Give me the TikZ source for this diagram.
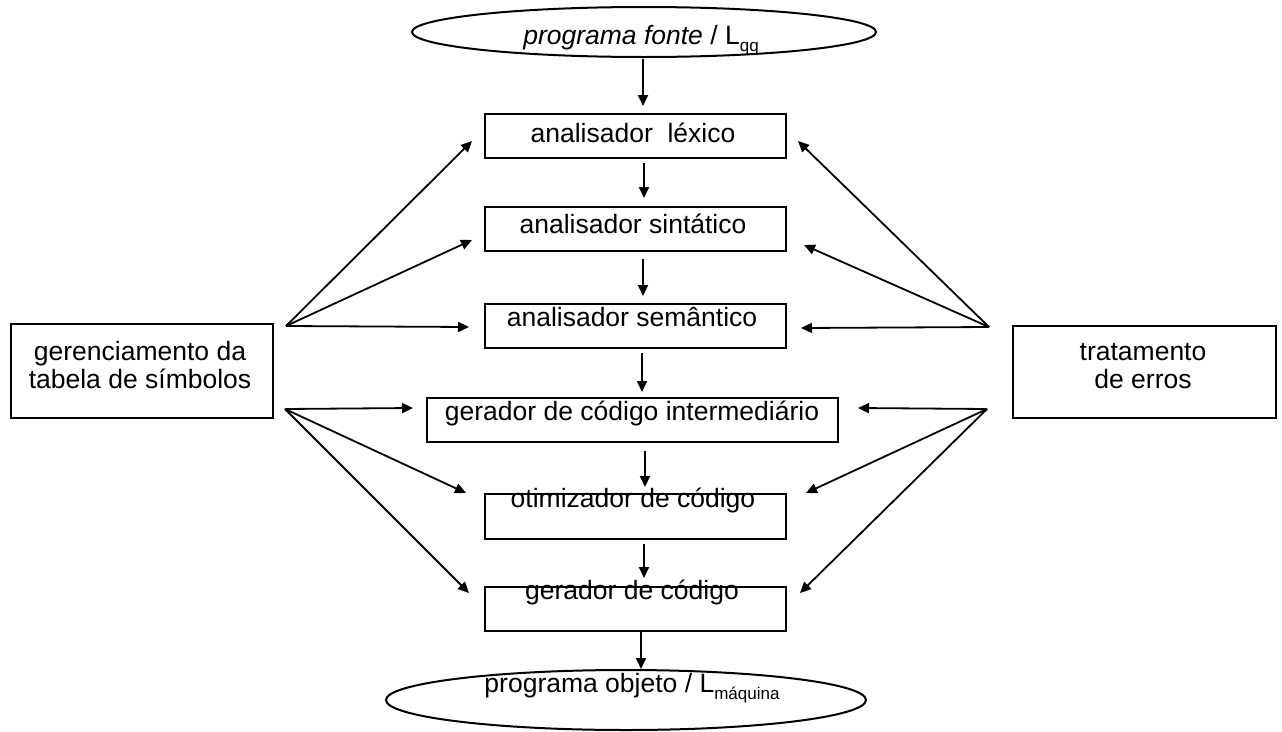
\documentclass[tikz,border=0pt]{standalone}
\usepackage{fontspec}
\setmainfont{Liberation Sans}
\usetikzlibrary{arrows.meta,shapes.geometric,calc}
% lowered, smaller subscript after the letter L
\newcommand{\lsub}[1]{\raisebox{-7pt}{\fontsize{17}{17}\selectfont #1}}
\begin{document}
\begin{tikzpicture}[x=1pt,y=-1pt,
  stage/.style={draw, line width=2pt, minimum width=301pt, minimum height=44pt, inner sep=0pt},
  side/.style={draw, line width=2pt, inner sep=0pt},
  term/.style={draw, ellipse, line width=2pt, inner sep=0pt},
  lbl/.style={anchor=base, inner sep=0pt, font=\fontsize{26.5}{28}\selectfont},
  arr/.style={-{Triangle[length=11pt,width=10pt]}, line width=1.8pt}]
\useasboundingbox (0,0) rectangle (1282,731);

% source and target program
\node[term, minimum width=464pt, minimum height=50pt] (src) at (644,32) {};
\node[term, minimum width=480pt, minimum height=60pt] (obj) at (626,700) {};
\node[lbl] (srctxt) at (641,44) {\textit{programa fonte} / L\lsub{qq}};
\node[lbl] (objtxt) at (632,692) {programa objeto / L\lsub{máquina}};

% compiler phases
\node[stage] (b1) at (635.5,136) {};
\node[stage] (b2) at (635.5,229) {};
\node[stage] (b3) at (635.5,326) {};
\node[stage, minimum width=411pt] (b4) at (632.5,420) {};
\node[stage, minimum height=45pt] (b5) at (635.5,516.5) {};
\node[stage] (b6) at (635.5,609) {};
\node[lbl] (t1) at (633,142) {analisador\ \ léxico};
\node[lbl] (t2) at (633,233) {analisador sintático};
\node[lbl] (t3) at (632,326) {analisador semântico};
\node[lbl] (t4) at (632,420) {gerador de código intermediário};
\node[lbl] (t5) at (633,507) {otimizador de código};
\node[lbl] (t6) at (632,599) {gerador de código};

% side services (base anchor sits on the last line)
\node[side, minimum width=262pt, minimum height=94pt] (sym) at (142,371) {};
\node[side, minimum width=263pt, minimum height=92pt] (err) at (1144.5,372) {};
\node[lbl, align=center] (symtxt) at (140,388) {gerenciamento da\\tabela de símbolos};
\node[lbl, align=center] (errtxt) at (1143,388) {tratamento\\de erros};

% main flow
\draw[arr] ($(src.south)+(-1,1)$) -- ($(b1.north)+(7.5,-7)$);
\draw[arr] ($(b1.south)+(8.5,4)$) -- ($(b2.north)+(8.5,-8)$);
\draw[arr] ($(b2.south)+(7.5,7)$) -- ($(b3.north)+(7.5,-7)$);
\draw[arr] ($(b3.south)+(6.5,4)$) -- ($(b4.north)+(9.5,-5)$);
\draw[arr] ($(b4.south)+(12.5,8)$) -- ($(b5.north)+(9.5,-6)$);
\draw[arr] ($(b5.south)+(8.5,4)$) -- ($(b6.north)+(8.5,-8)$);
\draw[arr] ($(b6.south)+(5.5,0)$) -- ($(obj.north)+(15,0)$);

% fan-out points
\coordinate (lu) at ($(sym.north east)+(12,3)$);
\coordinate (ll) at ($(sym.south east)+(11,-10)$);
\coordinate (ru) at ($(err.north west)+(-23,2)$);
\coordinate (rl) at ($(err.south west)+(-25,-10)$);

% symbol table links
\draw[arr] (lu) -- ($(b1.west)+(-12,5)$);
\draw[arr] (lu) -- ($(b2.west)+(-12,11)$);
\draw[arr] (lu) -- ($(b3.west)+(-15,1)$);
\draw[arr] (ll) -- ($(b4.west)+(-13,-12)$);
\draw[arr] (ll) -- ($(b5.west)+(-18,-23.5)$);
\draw[arr] (ll) -- ($(b6.west)+(-15,-16)$);

% error handling links
\draw[arr] (ru) -- ($(b1.east)+(11,5)$);
\draw[arr] (ru) -- ($(b2.east)+(17,16)$);
\draw[arr] (ru) -- ($(b3.east)+(14,2)$);
\draw[arr] (rl) -- ($(b4.east)+(19,-12)$);
\draw[arr] (rl) -- ($(b5.east)+(19,-23.5)$);
\draw[arr] (rl) -- ($(b6.east)+(13,-16)$);
\end{tikzpicture}
\end{document}
